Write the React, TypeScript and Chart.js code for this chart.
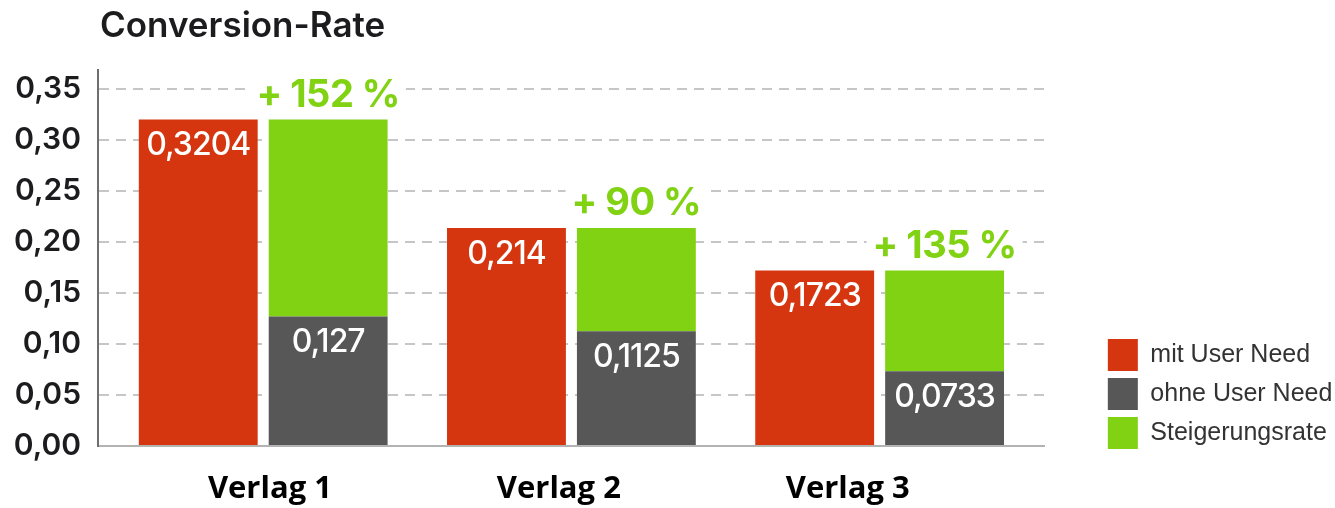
import React, { useEffect, useRef } from 'react';
import { Chart, registerables } from 'chart.js';

Chart.register(...registerables);

const titleText = 'Conversion-Rate';
const categories = ['Verlag 1', 'Verlag 2', 'Verlag 3'];
const seriesLabels = ['mit User Need', 'ohne User Need', 'Steigerungsrate'];
const mitUserNeed = [0.3204, 0.214, 0.1723];
const ohneUserNeed = [0.127, 0.1125, 0.0733];
const steigerungPct = [152, 90, 135];

const RED = '#D5360F';
const GRAY = '#575757';
const GREEN = '#80D212';

const fmt = (v: number) => String(v).replace('.', ',');

export default function App() {
  const ref = useRef<HTMLCanvasElement | null>(null);

  useEffect(() => {
    document.body.style.margin = '0';
    const canvas = ref.current;
    if (!canvas) return;

    const labelPlugin = {
      id: 'valueLabels',
      afterLayout(chart: any) {
        const lg = chart.legend;
        if (lg) {
          lg.top += 10;
          lg.bottom += 10;
          lg.right = chart.width;
          lg.width = lg.right - lg.left;
        }
      },
      afterDatasetsDraw(chart: any) {
        const ctx = chart.ctx;
        ctx.save();
        ctx.textAlign = 'center';
        ctx.textBaseline = 'middle';
        [0, 1].forEach((di) => {
          const meta = chart.getDatasetMeta(di);
          const src = di === 0 ? mitUserNeed : ohneUserNeed;
          meta.data.forEach((el: any, i: number) => {
            ctx.font = '500 32px Inter';
            (ctx as any).letterSpacing = '-1px';
            ctx.fillStyle = '#ffffff';
            ctx.fillText(fmt(src[i]), el.x, el.y + 26);
          });
        });
        const gm = chart.getDatasetMeta(2);
        gm.data.forEach((el: any, i: number) => {
          const text = `+ ${steigerungPct[i]} %`;
          ctx.font = '700 38px Inter';
          (ctx as any).letterSpacing = '-0.5px';
          const w = ctx.measureText(text).width;
          const cy = el.y - 24;
          ctx.fillStyle = '#ffffff';
          ctx.fillRect(el.x - w / 2 - 6, cy - 17, w + 12, 34);
          ctx.fillStyle = GREEN;
          ctx.fillText(text, el.x, cy);
        });
        ctx.restore();
      },
      afterDraw(chart: any) {
        const ctx = chart.ctx;
        ctx.save();
        ctx.font = '600 35px Inter';
        (ctx as any).letterSpacing = '0px';
        ctx.fillStyle = '#1c1c1e';
        ctx.textAlign = 'left';
        ctx.textBaseline = 'alphabetic';
        ctx.fillText(titleText, 100, 37);
        ctx.restore();
      },
    };

    const chart = new Chart(canvas, {
      type: 'bar',
      data: {
        datasets: [
          {
            label: seriesLabels[0],
            data: mitUserNeed.map((v, i) => ({ x: i, y: v })),
            backgroundColor: RED,
            stack: 'mit',
          },
          {
            label: seriesLabels[1],
            data: ohneUserNeed.map((v, i) => ({ x: i, y: v })),
            backgroundColor: GRAY,
            stack: 'ohne',
          },
          {
            label: seriesLabels[2],
            data: mitUserNeed.map((v, i) => ({ x: i, y: +(v - ohneUserNeed[i]).toFixed(4) })),
            backgroundColor: GREEN,
            stack: 'ohne',
          },
        ],
      } as any,
      options: {
        animation: false,
        responsive: false,
        datasets: { bar: { categoryPercentage: 0.843, barPercentage: 0.915 } },
        layout: { padding: { top: 70, left: 0, right: 14, bottom: 0 } },
        plugins: {
          tooltip: { enabled: false },
          title: { display: false },
          legend: {
            position: 'right',
            align: 'end',
            fullSize: false,
            labels: {
              boxWidth: 30,
              boxHeight: 32,
              padding: 7,
              color: '#333333',
              font: { family: 'Liberation Sans', size: 25 },
            },
          },
        },
        scales: {
          x: {
            type: 'linear',
            display: false,
            offset: false,
            stacked: true,
            min: -0.536,
            max: 2.536,
            ticks: { stepSize: 1, includeBounds: false },
          },
          xl: {
            type: 'linear',
            axis: 'x',
            position: 'bottom',
            offset: false,
            min: -0.595,
            max: 2.682,
            grid: { display: false, drawTicks: false },
            border: { display: true, color: '#b3b3b3', width: 2 },
            ticks: {
              stepSize: 1,
              includeBounds: false,
              autoSkip: false,
              maxRotation: 0,
              padding: 25,
              color: '#000000',
              font: { family: 'Open Sans', weight: 'bold', size: 31 },
              callback: (v: any) => categories[Number(v)] ?? '',
            },
            afterFit: (s: any) => {
              s.height = 62;
            },
          },
          y: {
            type: 'linear',
            stacked: true,
            min: 0,
            max: 0.369,
            ticks: {
              stepSize: 0.05,
              includeBounds: false,
              padding: 17,
              color: '#1c1c1e',
              font: { family: 'Inter', weight: '600', size: 30 },
              callback: (v: any) => Number(v).toFixed(2).replace('.', ','),
            },
            grid: { color: '#c6c6c6', lineWidth: 2, drawTicks: false },
            border: { color: '#6e6e6e', width: 2, dash: [10, 7] },
            afterFit: (s: any) => {
              s.width = 98;
            },
          },
          yr: {
            type: 'linear',
            position: 'right',
            display: true,
            grid: { display: false, drawTicks: false },
            border: { display: false },
            ticks: { display: false },
            afterFit: (s: any) => {
              s.width = 56;
            },
          },
        },
      } as any,
      plugins: [labelPlugin],
    });

    return () => chart.destroy();
  }, []);

  return (
    <div style={{ width: 1335, height: 508, position: 'relative', background: '#fff' }}>
      <canvas ref={ref} width={1335} height={508} style={{ display: 'block' }} />
    </div>
  );
}
